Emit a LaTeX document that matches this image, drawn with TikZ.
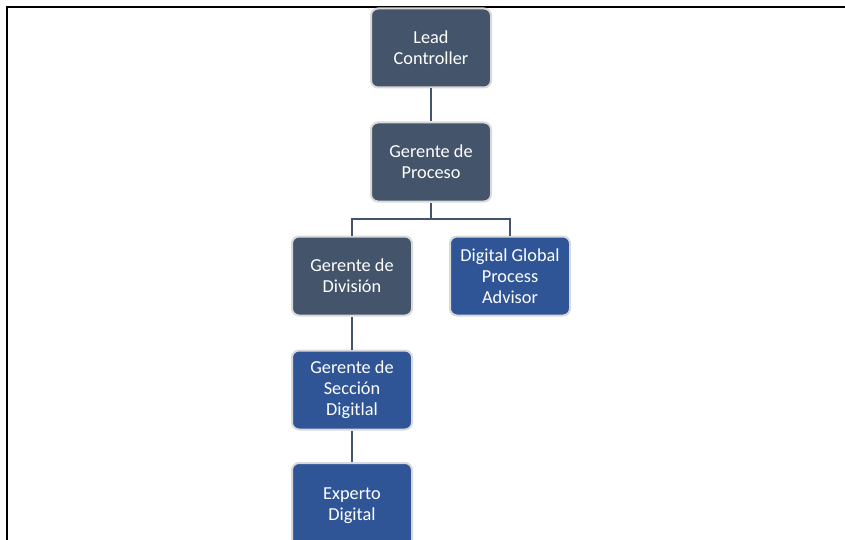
\documentclass[tikz,border=0pt]{standalone}
\usepackage{fontspec}
\setmainfont{Carlito}
\definecolor{slate}{HTML}{44546A}
\definecolor{bluebox}{HTML}{2F5597}
\definecolor{rim}{HTML}{D9D9D9}
\begin{document}
\begin{tikzpicture}[x=1pt,y=-1pt,
  box/.style={draw=rim, line width=2pt, rounded corners=7pt, minimum width=120pt, minimum height=79pt,
    text=white, align=center, font=\fontsize{18.3}{21}\selectfont, inner sep=2pt},
  darkbox/.style={box, fill=slate},
  bluebx/.style={box, fill=bluebox},
  conn/.style={draw=slate, line width=2.9pt}]
\useasboundingbox (0,0) rectangle (845,540);
\begin{scope}
\clip (0,0) rectangle (845,540);
\draw[line width=1.6pt] (7,540) -- (7,7) -- (845,7);
\node[darkbox] (lead) at (431,48) {Lead\\Controller};
\node[darkbox] (pro) at (431,162) {Gerente de\\Proceso};
\node[darkbox] (div) at (352,276) {Gerente de\\División};
\node[bluebx] (dga) at (510,276) {Digital Global\\Process\\Advisor};
\node[bluebx] (sec) at (352,390) {Gerente de\\Sección\\Digitlal};
\node[bluebx, minimum height=85pt] (exp) at (352,505.5) {Experto\\Digital};
\coordinate (fork) at (431,219);
\draw[conn] (lead.south) -- (pro.north);
\draw[conn] (pro.south) -- (fork) -| (div.north);
\draw[conn] (fork) -| (dga.north);
\draw[conn] (div.south) -- (sec.north);
\draw[conn] (sec.south) -- (exp.north);
\end{scope}
\end{tikzpicture}
\end{document}
